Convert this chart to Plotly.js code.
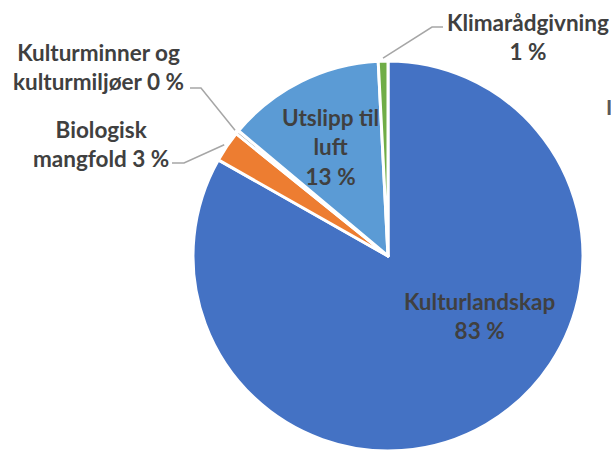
<!DOCTYPE html>
<html>
<head>
<meta charset="utf-8">
<script src="https://cdn.plot.ly/plotly-3.0.1.min.js"></script>
<style>html,body{margin:0;padding:0;overflow:hidden;background:#fff}</style>
</head>
<body>
<div id="chart"></div>
<script>
// Data
const categories = ["Kulturlandskap", "Biologisk mangfold", "Kulturminner og kulturmiljøer", "Utslipp til luft", "Klimarådgivning"];
const values = [83.2, 2.6, 0.3, 13.1, 0.8];
const colors = ["#4472C4", "#ED7D31", "#A5A5A5", "#5B9BD5", "#70AD47"];
const labelTexts = ["Kulturlandskap<br>", "Biologisk<br>mangfold ", "Kulturminner og<br>kulturmiljøer ", "Utslipp til<br>luft<br>", "Klimarådgivning<br>"];

const W = 611, H = 460;
const cx = 388, cy = 256, R = 195;
const X = px => px / W;
const Y = py => 1 - py / H;

const total = values.reduce((a, b) => a + b, 0);
const pct = values.map(v => Math.round(v / total * 100));
// mid angles (clockwise from 12 o'clock)
let acc = 0;
const mids = values.map(v => { const a0 = acc; acc += v; return (a0 + v / 2) / total * 2 * Math.PI; });
const edgePt = (i, r) => [cx + r * Math.sin(mids[i]), cy - r * Math.cos(mids[i])];

const txtFont = {family: "Lato, 'Open Sans', sans-serif", size: 22.5, color: "#404040", weight: 700};

// label layout: [x, y]
const labelPos = [
  [480, 316],
  [101, 144],
  [98, 67],
  [330, 147],
  [528, 37]
];
// leader elbows: [labelEndX, elbowX, y]
const leaders = {
  1: [172, 184, 163],
  2: [190, 201, 88],
  4: [443, 432, 27]
};

const annotations = labelPos.map((p, i) => ({
  x: X(p[0]), y: Y(p[1]), xref: "paper", yref: "paper",
  xanchor: "center", yanchor: "middle", showarrow: false,
  text: labelTexts[i] + pct[i] + " %",
  font: txtFont, align: "center"
}));
annotations.push({x: X(604), y: Y(106), xref: "paper", yref: "paper", xanchor: "left", yanchor: "middle",
  showarrow: false, text: "I", font: {family: "Lato, sans-serif", size: 21, color: "#595959", weight: 700}});

const shapes = Object.keys(leaders).map(k => {
  const i = +k; const [lx, ex, ly] = leaders[k];
  const [px, py] = edgePt(i, R + 3);
  return {type: "path", xref: "paper", yref: "paper",
    path: `M ${X(lx)} ${Y(ly)} L ${X(ex)} ${Y(ly)} L ${X(px)} ${Y(py)}`,
    line: {color: "#A6A6A6", width: 1.5}};
});

const trace = {
  type: "pie",
  labels: categories,
  values: values,
  sort: false,
  direction: "clockwise",
  rotation: 0,
  marker: {colors: colors, line: {color: "#FFFFFF", width: 3}},
  textinfo: "none",
  hoverinfo: "label+percent",
  domain: {x: [X(cx - R), X(cx + R)], y: [Y(cy + R), Y(cy - R)]},
  showlegend: false
};

Plotly.newPlot("chart", [trace], {
  width: W, height: H,
  margin: {l: 0, r: 0, t: 0, b: 0},
  paper_bgcolor: "#FFFFFF",
  showlegend: false,
  annotations: annotations,
  shapes: shapes
}, {displayModeBar: false, staticPlot: true});
</script>
</body>
</html>
